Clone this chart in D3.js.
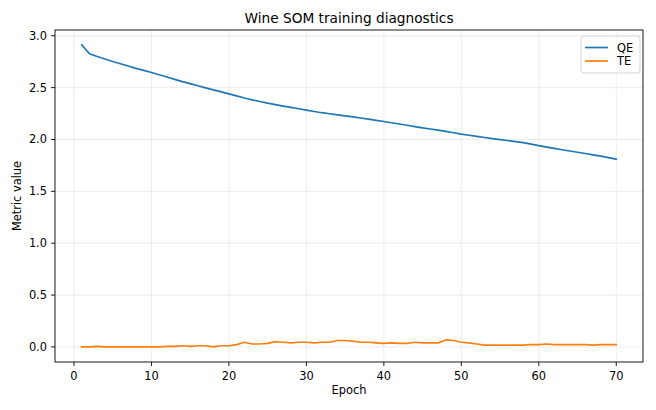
<!DOCTYPE html>
<html>
<head>
<meta charset="utf-8">
<script src="https://cdn.jsdelivr.net/npm/d3@7"></script>
<style>
  body { margin: 0; background: #fff; }
  svg text { font-family: "DejaVu Sans", sans-serif; fill: #000; }
</style>
</head>
<body>
<svg id="chart" width="656" height="410"></svg>
<script>
// values
var epochs = d3.range(1, 71)
var qe = [2.912, 2.826, 2.800, 2.776, 2.752, 2.730, 2.708, 2.686, 2.666, 2.646,
          2.624, 2.602, 2.580, 2.558, 2.538, 2.518, 2.498, 2.478, 2.459, 2.440,
          2.420, 2.400, 2.382, 2.366, 2.350, 2.336, 2.322, 2.309, 2.296, 2.283,
          2.270, 2.258, 2.248, 2.238, 2.228, 2.218, 2.207, 2.196, 2.184, 2.173,
          2.161, 2.149, 2.137, 2.124, 2.112, 2.101, 2.090, 2.078, 2.065, 2.052,
          2.041, 2.030, 2.019, 2.009, 1.999, 1.990, 1.980, 1.969, 1.955, 1.940,
          1.927, 1.914, 1.901, 1.889, 1.877, 1.865, 1.852, 1.839, 1.825, 1.810]
var te = [0.000, 0.000, 0.006, 0.000, 0.000, 0.000, 0.000, 0.000, 0.000, 0.000,
          0.000, 0.006, 0.006, 0.011, 0.006, 0.011, 0.011, 0.000, 0.011, 0.011,
          0.022, 0.045, 0.028, 0.028, 0.034, 0.051, 0.045, 0.039, 0.045, 0.045,
          0.039, 0.045, 0.045, 0.062, 0.062, 0.056, 0.045, 0.045, 0.039, 0.034,
          0.039, 0.034, 0.034, 0.045, 0.039, 0.039, 0.039, 0.067, 0.062, 0.045,
          0.039, 0.028, 0.017, 0.017, 0.017, 0.017, 0.017, 0.017, 0.022, 0.022,
          0.028, 0.022, 0.022, 0.022, 0.022, 0.022, 0.017, 0.022, 0.022, 0.022]
var xTicks = [0, 10, 20, 30, 40, 50, 60, 70]
var yTicks = [0.0, 0.5, 1.0, 1.5, 2.0, 2.5, 3.0]
var seriesNames = ["QE", "TE"]
var seriesColors = ["#1f77b4", "#ff7f0e"]

const margin = { top: 30, left: 55, right: 13, bottom: 48 }
const width = 656
const height = 410
const innerWidth = width - margin.left - margin.right
const innerHeight = height - margin.top - margin.bottom

var svg = d3.select('#chart')

const xScale = d3.scaleLinear().domain([-2.45, 73.45]).range([0, innerWidth])
const yScale = d3.scaleLinear().domain([-0.1455, 3.0555]).range([innerHeight, 0])

const g = svg.append("g").attr('transform', `translate(${margin.left},${margin.top})`)

// grid
g.append("g").selectAll("line").data(xTicks).enter().append("line")
    .attr("x1", d => xScale(d)).attr("x2", d => xScale(d))
    .attr("y1", 0).attr("y2", innerHeight)
    .attr("stroke", "#b0b0b0").attr("stroke-opacity", 0.25).attr("stroke-width", 0.9)
g.append("g").selectAll("line").data(yTicks).enter().append("line")
    .attr("x1", 0).attr("x2", innerWidth)
    .attr("y1", d => yScale(d)).attr("y2", d => yScale(d))
    .attr("stroke", "#b0b0b0").attr("stroke-opacity", 0.25).attr("stroke-width", 0.9)

// ticks (marks + labels), positioned by the scales
var fx = d3.format("d"), fy = d3.format(".1f")
var xt = g.append("g").selectAll("g").data(xTicks).enter().append("g")
    .attr("transform", d => `translate(${xScale(d)},${innerHeight})`)
xt.append("line").attr("y2", 4).attr("stroke", "#000").attr("stroke-width", 0.9)
xt.append("text").attr("y", 18).attr("text-anchor", "middle")
    .style("font-size", "11.4px").text(d => fx(d))
var yt = g.append("g").selectAll("g").data(yTicks).enter().append("g")
    .attr("transform", d => `translate(0,${yScale(d)})`)
yt.append("line").attr("x2", -4).attr("stroke", "#000").attr("stroke-width", 0.9)
yt.append("text").attr("x", -8).attr("y", 4).attr("text-anchor", "end")
    .style("font-size", "11.4px").text(d => fy(d))

// lines
var series = [qe, te]
const line = d3.line().x((d, i) => xScale(epochs[i])).y(d => yScale(d))
series.forEach((s, k) => {
    g.append("path").datum(s)
        .attr("d", line)
        .attr("fill", "none")
        .attr("stroke", seriesColors[k])
        .attr("stroke-width", 1.7)
        .attr("stroke-linejoin", "round")
        .attr("stroke-linecap", "square")
})

// frame
g.append("rect").attr("x", 0).attr("y", 0)
    .attr("width", innerWidth).attr("height", innerHeight)
    .attr("fill", "none").attr("stroke", "#000").attr("stroke-width", 0.9)

// title and labels
svg.append("text").attr("x", margin.left + innerWidth / 2).attr("y", 23)
    .attr("text-anchor", "middle").style("font-size", "13.7px")
    .text("Wine SOM training diagnostics")
svg.append("text").attr("x", margin.left + innerWidth / 2).attr("y", 394)
    .attr("text-anchor", "middle").style("font-size", "11.4px")
    .text("Epoch")
svg.append("text")
    .attr("transform", `translate(21,${margin.top + innerHeight / 2}) rotate(-90)`)
    .attr("text-anchor", "middle").style("font-size", "11.4px")
    .text("Metric value")

// legend
const lg = svg.append("g").attr("transform", "translate(581,36)")
lg.append("rect").attr("width", 59).attr("height", 37).attr("rx", 3)
    .attr("fill", "#fff").attr("fill-opacity", 0.8)
    .attr("stroke", "#d0d0d0").attr("stroke-width", 0.9)
seriesNames.forEach((name, k) => {
    lg.append("line").attr("x1", 4).attr("x2", 27)
        .attr("y1", 11.5 + k * 13.5).attr("y2", 11.5 + k * 13.5)
        .attr("stroke", seriesColors[k]).attr("stroke-width", 1.7)
    lg.append("text").attr("x", 36).attr("y", 15.5 + k * 13.5)
        .style("font-size", "11.4px").text(name)
})
</script>
</body>
</html>
